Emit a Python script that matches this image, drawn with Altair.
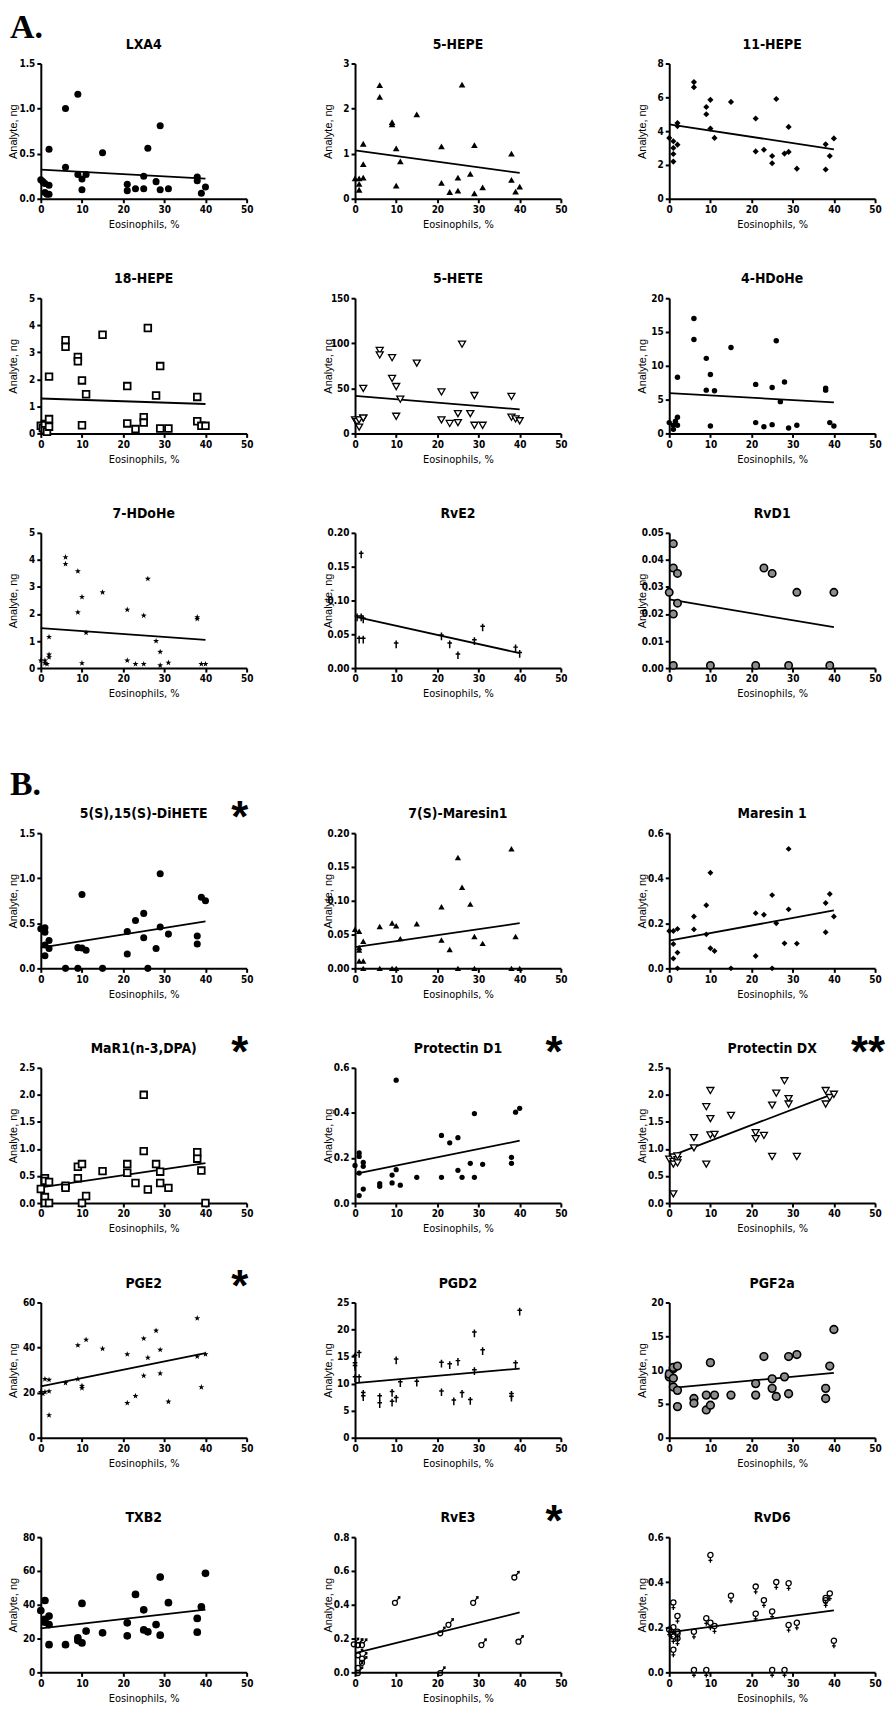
import altair as alt
import pandas as pd

NARROW = "Liberation Sans Narrow, Arial Narrow, DejaVu Sans Condensed, sans-serif"
SANS = "Liberation Sans, Arial, sans-serif"
SERIF = "Liberation Serif, Times New Roman, serif"

SECTION_LABELS = ["A.", "B."]
X_TITLE = "Eosinophils, %"
Y_TITLE = "Analyte, ng"
X_TICKS = [0, 10, 20, 30, 40, 50]

# ---------------- Section A data ----------------
LXA4_X = [0, 0.5, 1, 1, 1.5, 2, 2, 2, 6, 6, 9, 9, 10, 10, 11, 15, 21, 21, 23, 25, 25, 26, 28, 29, 29, 31, 38, 38, 39, 40]
LXA4_Y = [0.21, 0.19, 0.17, 0.07, 0.05, 0.05, 0.15, 0.55, 1.0, 0.35, 1.16, 0.27, 0.22, 0.1, 0.27, 0.51, 0.16, 0.09, 0.11, 0.11, 0.25, 0.56, 0.19, 0.81, 0.1, 0.11, 0.24, 0.2, 0.06, 0.13]

HEPE5_X = [0, 1, 1, 1, 2, 2, 2, 6, 6, 9, 9, 10, 10, 11, 15, 21, 21, 23, 25, 25, 26, 28, 29, 29, 31, 38, 38, 39, 40]
HEPE5_Y = [0.45, 0.45, 0.33, 0.2, 1.22, 0.77, 0.47, 2.52, 2.26, 1.7, 1.65, 1.12, 0.29, 0.83, 1.87, 1.16, 0.35, 0.15, 0.47, 0.18, 2.53, 0.55, 1.19, 0.12, 0.25, 1.0, 0.42, 0.16, 0.27]

HEPE11_X = [0, 1, 1, 1, 1, 2, 2, 2, 6, 6, 9, 9, 10, 10, 11, 15, 21, 21, 23, 25, 25, 26, 28, 29, 29, 31, 38, 38, 39, 40]
HEPE11_Y = [3.6, 3.4, 3.0, 2.65, 2.2, 3.2, 4.3, 4.48, 6.9, 6.6, 5.43, 5.0, 5.85, 4.15, 3.6, 5.73, 4.75, 2.8, 2.9, 2.53, 2.1, 5.9, 2.67, 4.25, 2.77, 1.78, 3.22, 1.73, 2.53, 3.57]

HEPE18_X = [0, 0.5, 1, 1, 1, 1.5, 2, 2, 2, 6, 6, 9, 9, 10, 10, 11, 15, 21, 21, 23, 25, 25, 26, 28, 29, 29, 31, 38, 38, 39, 40]
HEPE18_Y = [0.28, 0.2, 0.35, 0.3, 0.12, 0.06, 2.1, 0.53, 0.25, 3.45, 3.2, 2.83, 2.67, 1.96, 0.3, 1.45, 3.65, 1.75, 0.37, 0.16, 0.6, 0.4, 3.9, 1.4, 2.49, 0.18, 0.18, 1.35, 0.45, 0.28, 0.28]

HETE5_X = [0, 0.5, 1, 1, 2, 2, 2, 6, 6, 9, 9, 10, 10, 11, 15, 21, 21, 23, 25, 25, 26, 28, 29, 29, 31, 38, 38, 39, 40]
HETE5_Y = [15, 13, 7, 15, 17, 17, 50, 92, 87, 84, 61, 52, 19, 38, 78, 46, 15, 11, 22, 12, 99, 22, 42, 9, 9, 41, 18, 16, 14]

HDOHE4_X = [0, 1, 1, 1.5, 2, 2, 2, 6, 6, 9, 9, 10, 10, 11, 15, 21, 21, 23, 25, 25, 26, 27, 28, 29, 31, 38, 38, 39, 40]
HDOHE4_Y = [1.6, 1.2, 0.6, 1.8, 2.4, 1.2, 8.3, 17, 13.9, 11.1, 6.4, 8.7, 1.1, 6.3, 12.7, 7.25, 1.6, 1.0, 6.8, 1.3, 13.7, 4.7, 7.6, 0.8, 1.2, 6.7, 6.4, 1.6, 1.1]

HDOHE7_X = [0, 1, 1, 1.5, 2, 2, 2, 6, 6, 9, 9, 10, 10, 11, 15, 21, 21, 23, 25, 25, 26, 28, 29, 29, 31, 38, 38, 39, 40]
HDOHE7_Y = [0.28, 0.18, 0.28, 0.15, 1.15, 0.5, 0.4, 4.1, 3.85, 3.58, 2.06, 2.63, 0.18, 1.31, 2.8, 2.16, 0.28, 0.15, 1.94, 0.15, 3.3, 1.0, 0.6, 0.1, 0.2, 1.88, 1.82, 0.15, 0.15]

RVE2_X = [0.5, 1, 1.5, 1.5, 2, 2, 10, 21, 23, 25, 29, 31, 39, 40]
RVE2_Y = [0.075, 0.042, 0.168, 0.075, 0.072, 0.042, 0.035, 0.047, 0.035, 0.019, 0.040, 0.060, 0.029, 0.021]

RVD1_X = [0, 1, 1, 1, 1, 2, 2, 10, 21, 23, 25, 29, 31, 39, 40]
RVD1_Y = [0.028, 0.046, 0.037, 0.020, 0.001, 0.035, 0.024, 0.001, 0.001, 0.037, 0.035, 0.001, 0.028, 0.001, 0.028]

# ---------------- Section B data ----------------
DIHETE_X = [0, 1, 1, 1, 1, 2, 2, 6, 9, 9, 10, 10, 11, 15, 21, 21, 23, 25, 25, 26, 28, 29, 29, 31, 38, 38, 39, 40]
DIHETE_Y = [0.44, 0.45, 0.40, 0.26, 0.14, 0.31, 0.22, 0.0, 0.0, 0.23, 0.82, 0.225, 0.2, 0.0, 0.41, 0.16, 0.53, 0.61, 0.34, 0.0, 0.22, 0.46, 1.05, 0.38, 0.36, 0.27, 0.79, 0.75]

MAR7S_X = [0, 1, 1, 1, 1, 2, 2, 2, 6, 6, 9, 9, 10, 10, 11, 15, 21, 21, 23, 25, 25, 26, 28, 29, 29, 31, 38, 38, 39, 40]
MAR7S_Y = [0.058, 0.055, 0.031, 0.027, 0.011, 0.040, 0.011, 0.0, 0.062, 0.0, 0.067, 0.0, 0.063, 0.0, 0.044, 0.066, 0.091, 0.042, 0.028, 0.164, 0.0, 0.12, 0.095, 0.047, 0.0, 0.037, 0.177, 0.0, 0.047, 0.0]

MAR1_X = [0, 1, 1, 1, 2, 2, 2, 6, 6, 9, 9, 10, 10, 11, 15, 21, 21, 23, 25, 25, 26, 28, 29, 29, 31, 38, 38, 39, 40]
MAR1_Y = [0.166, 0.166, 0.108, 0.044, 0.175, 0.07, 0.0, 0.23, 0.173, 0.28, 0.151, 0.424, 0.089, 0.077, 0.0, 0.245, 0.055, 0.238, 0.325, 0.0, 0.2, 0.111, 0.53, 0.262, 0.11, 0.29, 0.16, 0.33, 0.23]

DPA_X = [0, 1, 1, 2, 1, 1, 2, 6, 6, 9, 10, 9, 10, 11, 15, 21, 21, 23, 25, 26, 28, 29, 29, 31, 38, 38, 39, 40, 25]
DPA_Y = [0.26, 0.46, 0.41, 0.39, 0.11, 0.0, 0.0, 0.32, 0.28, 0.67, 0.72, 0.46, 0.0, 0.13, 0.59, 0.72, 0.56, 0.37, 0.96, 0.25, 0.72, 0.58, 0.37, 0.28, 0.94, 0.82, 0.6, 0.0, 2.0]

PD1_X = [0, 1, 1, 2, 2, 1, 2, 1, 6, 6, 9, 9, 10, 10, 11, 15, 21, 21, 23, 25, 25, 26, 28, 29, 29, 31, 38, 38, 39, 40]
PD1_Y = [0.167, 0.222, 0.207, 0.18, 0.163, 0.133, 0.062, 0.033, 0.086, 0.074, 0.124, 0.089, 0.148, 0.545, 0.079, 0.114, 0.3, 0.114, 0.267, 0.29, 0.145, 0.114, 0.176, 0.114, 0.397, 0.172, 0.203, 0.176, 0.403, 0.42]

PDX_X = [0, 1, 1, 1, 2, 2, 2, 1, 6, 6, 9, 9, 10, 10, 10, 11, 15, 21, 21, 23, 25, 25, 26, 28, 29, 29, 31, 38, 38, 39, 40]
PDX_Y = [0.81, 0.85, 0.77, 0.72, 0.8, 0.74, 0.87, 0.17, 1.02, 1.21, 0.72, 1.78, 1.26, 2.08, 1.56, 1.27, 1.62, 1.3, 1.19, 1.25, 0.86, 1.81, 2.03, 2.26, 1.93, 1.83, 0.86, 2.08, 1.83, 1.95, 2.01]

PGE2_X = [0, 0.5, 1, 1, 2, 2, 2, 6, 9, 9, 10, 10, 11, 15, 21, 21, 23, 25, 25, 26, 28, 29, 29, 31, 38, 38, 39, 40]
PGE2_Y = [20.3, 19.5, 20.3, 26, 25.7, 20.6, 10, 24.3, 26, 41, 23, 22, 43.5, 39.5, 37, 15.4, 18.5, 44, 27.5, 35.5, 47.5, 39, 28.5, 16, 53, 36, 22.4, 37]

PGD2_X = [0, 0, 0, 0, 1, 1, 2, 2, 6, 6, 9, 9, 10, 10, 11, 15, 21, 21, 23, 24, 25, 26, 28, 29, 29, 31, 38, 38, 39, 40]
PGD2_Y = [15.0, 13.6, 13.1, 11.0, 15.5, 11.0, 8.1, 7.5, 7.5, 6.2, 8.3, 6.5, 14.3, 7.2, 10.1, 10.2, 13.7, 8.4, 13.4, 6.7, 14.0, 8.1, 6.8, 12.3, 19.3, 16.0, 7.9, 7.4, 13.6, 23.3]

PGF2A_X = [0, 0, 1, 1, 2, 1, 1, 2, 2, 6, 6, 9, 10, 9, 11, 10, 15, 21, 21, 23, 25, 25, 26, 28, 29, 29, 31, 38, 38, 39, 40]
PGF2A_Y = [9.0, 9.4, 10.2, 10.4, 10.6, 8.8, 7.5, 7.0, 4.6, 5.8, 5.1, 4.1, 4.8, 6.3, 6.3, 11.1, 6.3, 8.0, 6.3, 12.0, 8.7, 7.3, 6.1, 9.0, 12.0, 6.5, 12.3, 7.3, 5.8, 10.6, 16.0]

TXB2_X = [0, 1, 1, 1, 2, 2, 2, 6, 9, 9, 10, 10, 11, 15, 21, 21, 23, 25, 25, 26, 28, 29, 29, 31, 38, 38, 39, 40]
TXB2_Y = [36.6, 42.5, 31.3, 29.7, 33.3, 28.3, 16.4, 16.4, 20.4, 18.8, 17.4, 40.8, 24.4, 23.4, 29.3, 21.6, 46.1, 37.0, 25.1, 24.0, 28.3, 56.4, 22.0, 41.2, 31.9, 23.8, 38.8, 58.6]

RVE3_X = [0, 1, 1, 2, 1, 2, 2, 1, 1, 10, 21, 21, 23, 29, 31, 39, 40]
RVE3_Y = [0.175, 0.17, 0.17, 0.17, 0.11, 0.065, 0.09, 0.035, 0.005, 0.42, 0.24, 0.005, 0.29, 0.42, 0.17, 0.57, 0.19]

RVD6_X = [0, 0.5, 1, 1, 1, 2, 2, 2, 1, 2, 6, 6, 9, 9, 10, 10, 11, 15, 21, 21, 23, 25, 25, 26, 28, 29, 29, 31, 38, 38, 39, 40]
RVD6_Y = [0.18, 0.17, 0.19, 0.15, 0.3, 0.24, 0.14, 0.17, 0.09, 0.16, 0.17, 0.0, 0.23, 0.0, 0.21, 0.51, 0.195, 0.33, 0.37, 0.25, 0.31, 0.26, 0.0, 0.39, 0.0, 0.385, 0.2, 0.21, 0.32, 0.31, 0.34, 0.13]

# ---------------- marker shapes (Prism-like symbols) ----------------
STAR = "M0,-1L0.235,-0.324L0.951,-0.309L0.38,0.124L0.588,0.809L0,0.4L-0.588,0.809L-0.38,0.124L-0.951,-0.309L-0.235,-0.324Z"
DAGGER = "M0,-1L0,1M-0.6,-0.35L0.6,-0.35"
MALE = "M-0.75,0.3A0.5,0.5 0 1,0 0.25,0.3A0.5,0.5 0 1,0 -0.75,0.3M0.05,-0.05L0.65,-0.85M0.3,-0.9L0.72,-0.92L0.7,-0.5"
FEMALE = "M-0.5,-0.45A0.5,0.5 0 1,0 0.5,-0.45A0.5,0.5 0 1,0 -0.5,-0.45M0,0.05L0,1M-0.38,0.55L0.38,0.55"


def filled(shape, size):
    return dict(shape=shape, size=size, filled=True, color="black")


def hollow(shape, size, sw):
    return dict(shape=shape, size=size, filled=True, fill="white", stroke="black", strokeWidth=sw)


def lines(shape, size, sw):
    return dict(shape=shape, size=size, filled=False, color="black", strokeWidth=sw)


def grey(size):
    return dict(shape="circle", size=size, filled=True, fill="#8c8c8c", stroke="black", strokeWidth=1.6)


W, H = 207, 136


def label(text, font, size, align, x, y, weight="bold"):
    return alt.Chart(pd.DataFrame({"t": [text]})).mark_text(
        font=font, fontWeight=weight, fontSize=size, align=align, baseline="alphabetic", color="black"
    ).encode(text="t:N", x=alt.value(x), y=alt.value(y))


def panel(title, xs, ys, yticks, fmt, mark, signif="", section="", sec_y=-30):
    df = pd.DataFrame({"x": xs, "y": ys})
    xenc = alt.X("x:Q", scale=alt.Scale(domain=[0, 50], nice=False),
                 axis=alt.Axis(values=X_TICKS, title=X_TITLE, format="d"))
    yenc = alt.Y("y:Q", scale=alt.Scale(domain=[0, yticks[-1]], nice=False),
                 axis=alt.Axis(values=yticks, format=fmt, title=Y_TITLE))
    base = alt.Chart(df)
    line = base.transform_regression("x", "y").mark_line(color="black", strokeWidth=1.8).encode(x=xenc, y=yenc)
    pts = base.mark_point(opacity=1, **mark).encode(x=xenc, y=yenc)
    layers = [line, pts, label(title, NARROW, 14, "center", W / 2, -15)]
    if signif:
        layers.append(label(signif, SANS, 44, "center", 200, -1))
    if section:
        layers.append(label(section, SERIF, 34, "left", -31, sec_y))
    return alt.layer(*layers).properties(width=W, height=H)


panels_a = [
    panel("LXA4", LXA4_X, LXA4_Y, [0, 0.5, 1.0, 1.5], ".1f", filled("circle", 50), section=SECTION_LABELS[0], sec_y=-26),
    panel("5-HEPE", HEPE5_X, HEPE5_Y, [0, 1, 2, 3], "d", filled("triangle-up", 45)),
    panel("11-HEPE", HEPE11_X, HEPE11_Y, [0, 2, 4, 6, 8], "d", filled("diamond", 38)),
    panel("18-HEPE", HEPE18_X, HEPE18_Y, [0, 1, 2, 3, 4, 5], "d", hollow("square", 45, 1.8)),
    panel("5-HETE", HETE5_X, HETE5_Y, [0, 50, 100, 150], "d", hollow("triangle-down", 50, 1.3)),
    panel("4-HDoHe", HDOHE4_X, HDOHE4_Y, [0, 5, 10, 15, 20], "d", filled("circle", 30)),
    panel("7-HDoHe", HDOHE7_X, HDOHE7_Y, [0, 1, 2, 3, 4, 5], "d", filled(STAR, 40)),
    panel("RvE2", RVE2_X, RVE2_Y, [0, 0.05, 0.10, 0.15, 0.20], ".2f", lines(DAGGER, 60, 1.5)),
    panel("RvD1", RVD1_X, RVD1_Y, [0, 0.01, 0.02, 0.03, 0.04, 0.05], ".2f", grey(55)),
]

panels_b = [
    panel("5(S),15(S)-DiHETE", DIHETE_X, DIHETE_Y, [0, 0.5, 1.0, 1.5], ".1f", filled("circle", 50), signif="*",
          section=SECTION_LABELS[1], sec_y=-38),
    panel("7(S)-Maresin1", MAR7S_X, MAR7S_Y, [0, 0.05, 0.10, 0.15, 0.20], ".2f", filled("triangle-up", 40)),
    panel("Maresin 1", MAR1_X, MAR1_Y, [0, 0.2, 0.4, 0.6], ".1f", filled("diamond", 35)),
    panel("MaR1(n-3,DPA)", DPA_X, DPA_Y, [0, 0.5, 1.0, 1.5, 2.0, 2.5], ".1f", hollow("square", 45, 1.8), signif="*"),
    panel("Protectin D1", PD1_X, PD1_Y, [0, 0.2, 0.4, 0.6], ".1f", filled("circle", 28), signif="*"),
    panel("Protectin DX", PDX_X, PDX_Y, [0, 0.5, 1.0, 1.5, 2.0, 2.5], ".1f", hollow("triangle-down", 50, 1.3), signif="**"),
    panel("PGE2", PGE2_X, PGE2_Y, [0, 20, 40, 60], "d", filled(STAR, 40), signif="*"),
    panel("PGD2", PGD2_X, PGD2_Y, [0, 5, 10, 15, 20, 25], "d", lines(DAGGER, 60, 1.5)),
    panel("PGF2a", PGF2A_X, PGF2A_Y, [0, 5, 10, 15, 20], "d", grey(60)),
    panel("TXB2", TXB2_X, TXB2_Y, [0, 20, 40, 60, 80], "d", filled("circle", 60)),
    panel("RvE3", RVE3_X, RVE3_Y, [0, 0.2, 0.4, 0.6, 0.8], ".1f", lines(MALE, 100, 1.3), signif="*"),
    panel("RvD6", RVD6_X, RVD6_Y, [0, 0.2, 0.4, 0.6], ".1f", lines(FEMALE, 110, 1.3)),
]

sec_a = alt.concat(*panels_a, columns=3, spacing={"row": 100, "column": 109}, bounds="flush")
sec_b = alt.concat(*panels_b, columns=3, spacing={"row": 100, "column": 109}, bounds="flush")

chart = (
    alt.vconcat(sec_a, sec_b, spacing=70)
    .properties(padding={"left": 0, "top": -2, "right": 0, "bottom": 0}, background="white")
    .configure_axis(
        domainColor="black", domainWidth=2, tickColor="black", tickWidth=2, tickSize=4,
        labelFont=NARROW, labelFontWeight="bold", labelFontSize=10, labelColor="black",
        labelPadding=2, grid=False, titleColor="black", titleFontWeight="normal", titleFontSize=11,
        labelFlush=False, labelOverlap=False,
    )
    .configure_axisX(titleFont=NARROW, titlePadding=4)
    .configure_axisY(titleFont=SANS, minExtent=21, maxExtent=21, titlePadding=1)
    .configure_view(strokeWidth=0)
)

chart.save("out.html", embed_options={"renderer": "svg", "actions": False})
